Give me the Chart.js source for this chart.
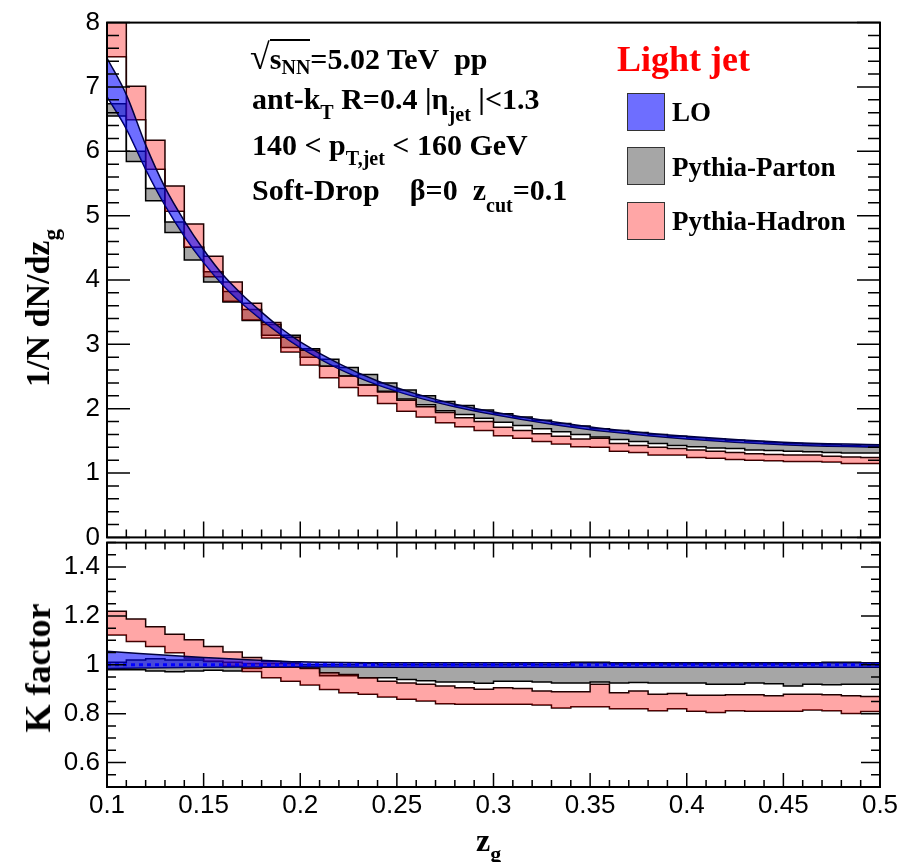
<!DOCTYPE html>
<html>
<head>
<meta charset="utf-8">
<script src="https://cdn.jsdelivr.net/npm/chart.js@4.4.1/dist/chart.umd.min.js"></script>
<style>
  body { margin: 0; background: #fff; }
  #wrap { position: relative; width: 905px; height: 862px; overflow: hidden; }
  .pane { position: absolute; left: 0; width: 905px; }
  .txt { position: absolute; font-family: "Liberation Serif", "Times New Roman", serif; font-weight: bold; color: #000; white-space: nowrap; line-height: 1; }
  .sub { font-size: 20px; position: relative; }
  .box { position: absolute; width: 36px; height: 36px; border: 1.5px solid #333; }
</style>
</head>
<body>
<div id="wrap">
  <div class="pane" style="top:0;height:560px"><canvas id="mainChart"></canvas></div>
  <div class="pane" style="top:520px;height:342px"><canvas id="ratioChart"></canvas></div>

  <!-- annotations -->
  <div class="txt" style="left:250px;top:39px;font-size:30px"><span style="font-weight:normal;font-size:36px">√</span><span style="border-top:2px solid #000;padding-top:1px">s<span class="sub" style="top:5px">NN</span></span>=5.02 TeV&nbsp;&nbsp;pp</div>
  <div class="txt" style="left:252px;top:84px;font-size:30px">ant-k<span class="sub" style="top:10px">T</span> R=0.4 |η<span class="sub" style="top:12px">jet</span> |&lt;1.3</div>
  <div class="txt" style="left:252px;top:130px;font-size:30px">140 &lt; p<span class="sub" style="top:10px">T,jet</span> &lt; 160 GeV</div>
  <div class="txt" style="left:252px;top:175px;font-size:30px">Soft-Drop&nbsp;&nbsp;&nbsp;&nbsp;β=0&nbsp;&nbsp;z<span class="sub" style="top:12px">cut</span>=0.1</div>

  <!-- legend -->
  <div class="txt" style="left:617px;top:41px;font-size:36px;color:#ff0000">Light jet</div>
  <div class="box" style="left:627px;top:93px;background:rgb(110,110,255)"></div>
  <div class="box" style="left:627px;top:147px;background:rgb(166,166,166)"></div>
  <div class="box" style="left:627px;top:202px;background:rgb(255,166,166)"></div>
  <div class="txt" style="left:672px;top:99px;font-size:27px">LO</div>
  <div class="txt" style="left:672px;top:154px;font-size:27px">Pythia-Parton</div>
  <div class="txt" style="left:672px;top:208px;font-size:27px">Pythia-Hadron</div>

  <!-- axis titles -->
  <div class="txt" style="left:38px;top:308px;font-size:34px;transform:translate(-50%,-50%) rotate(-90deg)">1/N dN/dz<span class="sub" style="top:10px;font-size:23px">g</span></div>
  <div class="txt" style="left:38px;top:668px;font-size:36px;transform:translate(-50%,-50%) rotate(-90deg)">K factor</div>
  <div class="txt" style="left:476px;top:824px;font-size:32px">z<span class="sub" style="top:10px;font-size:22px">g</span></div>
</div>

<script>
// bin edges in z_g
const zEdges = [0.10, 0.11, 0.12, 0.13, 0.14, 0.15, 0.16, 0.17, 0.18, 0.19,
  0.20, 0.21, 0.22, 0.23, 0.24, 0.25, 0.26, 0.27, 0.28, 0.29,
  0.30, 0.31, 0.32, 0.33, 0.34, 0.35, 0.36, 0.37, 0.38, 0.39,
  0.40, 0.41, 0.42, 0.43, 0.44, 0.45, 0.46, 0.47, 0.48, 0.49, 0.50];

const xTicks = [0.1, 0.15, 0.2, 0.25, 0.3, 0.35, 0.4, 0.45, 0.5];
const yTicksMain = [0, 1, 2, 3, 4, 5, 6, 7, 8];
const yTicksRatio = [0.6, 0.8, 1, 1.2, 1.4];

// 1/N dN/dz_g, Pythia-Parton band
const partonLo = [6.55, 5.84, 5.23, 4.74, 4.31, 3.97, 3.66, 3.37, 3.14, 2.95,
  2.80, 2.66, 2.51, 2.37, 2.27, 2.15, 2.06, 1.97, 1.91, 1.85,
  1.79, 1.74, 1.69, 1.64, 1.60, 1.56, 1.52, 1.49, 1.46, 1.43,
  1.41, 1.39, 1.38, 1.36, 1.35, 1.34, 1.33, 1.32, 1.31, 1.31];
const partonHi = [6.74, 6.00, 5.42, 4.90, 4.51, 4.13, 3.82, 3.54, 3.31, 3.14,
  2.93, 2.77, 2.64, 2.53, 2.40, 2.29, 2.20, 2.11, 2.05, 1.98,
  1.92, 1.87, 1.82, 1.77, 1.73, 1.69, 1.66, 1.63, 1.60, 1.57,
  1.55, 1.53, 1.51, 1.49, 1.47, 1.46, 1.45, 1.44, 1.43, 1.42];

// Pythia-Hadron band
const hadronLo = [7.47, 6.49, 5.72, 5.07, 4.51, 4.05, 3.67, 3.38, 3.10, 2.88,
  2.68, 2.48, 2.33, 2.20, 2.08, 1.96, 1.87, 1.78, 1.72, 1.66,
  1.58, 1.54, 1.49, 1.45, 1.41, 1.40, 1.34, 1.32, 1.28, 1.28,
  1.24, 1.23, 1.21, 1.20, 1.19, 1.18, 1.18, 1.17, 1.15, 1.15];
const hadronHi = [8.30, 7.01, 6.17, 5.46, 4.87, 4.37, 3.97, 3.64, 3.34, 3.11,
  2.91, 2.66, 2.51, 2.37, 2.26, 2.13, 2.03, 1.94, 1.86, 1.80,
  1.71, 1.66, 1.61, 1.57, 1.53, 1.54, 1.46, 1.43, 1.40, 1.38,
  1.36, 1.34, 1.32, 1.30, 1.29, 1.28, 1.28, 1.26, 1.25, 1.24];

// LO band (smooth)
const loZ = [0.10, 0.11, 0.12, 0.13, 0.14, 0.15, 0.16, 0.17, 0.18, 0.19, 0.20,
  0.22, 0.24, 0.26, 0.28, 0.30, 0.33, 0.36, 0.40, 0.45, 0.50];
const loHi = [7.45, 6.88, 6.10, 5.44, 4.92, 4.47, 4.08, 3.77, 3.50, 3.25, 3.04,
  2.70, 2.43, 2.23, 2.07, 1.95, 1.80, 1.68, 1.57, 1.48, 1.44];
const loLo = [6.85, 6.35, 5.72, 5.16, 4.68, 4.27, 3.92, 3.63, 3.38, 3.15, 2.95,
  2.62, 2.37, 2.18, 2.03, 1.91, 1.76, 1.64, 1.53, 1.44, 1.40];

// K factor panel
const kPartonLo = [0.980, 0.980, 0.975, 0.972, 0.975, 0.978, 0.975, 0.985, 0.990, 0.990,
  0.985, 0.955, 0.955, 0.947, 0.947, 0.940, 0.935, 0.930, 0.930, 0.925,
  0.933, 0.933, 0.930, 0.926, 0.926, 0.930, 0.926, 0.928, 0.926, 0.926,
  0.926, 0.920, 0.920, 0.926, 0.922, 0.913, 0.920, 0.918, 0.920, 0.920];
const kPartonHi = [1.010, 1.020, 1.025, 1.020, 1.020, 1.015, 1.010, 1.005, 1.005, 1.005,
  1.000, 1.000, 1.000, 1.007, 1.000, 1.000, 1.000, 1.000, 1.000, 1.000,
  1.000, 1.002, 1.000, 1.000, 1.010, 1.010, 1.003, 1.003, 1.003, 1.003,
  1.003, 1.003, 1.003, 1.003, 1.003, 1.003, 1.003, 1.010, 1.010, 1.003];
const kHadronLo = [1.122, 1.095, 1.075, 1.049, 1.028, 1.014, 0.994, 0.973, 0.947, 0.933,
  0.917, 0.899, 0.886, 0.879, 0.868, 0.859, 0.852, 0.841, 0.839, 0.839,
  0.839, 0.839, 0.836, 0.823, 0.828, 0.828, 0.820, 0.820, 0.812, 0.820,
  0.810, 0.805, 0.812, 0.810, 0.810, 0.810, 0.815, 0.812, 0.801, 0.809];
const kHadronHi = [1.219, 1.187, 1.156, 1.125, 1.102, 1.075, 1.052, 1.030, 1.014, 1.007,
  0.987, 0.967, 0.960, 0.947, 0.933, 0.926, 0.920, 0.913, 0.906, 0.900,
  0.906, 0.903, 0.893, 0.890, 0.890, 0.920, 0.886, 0.893, 0.879, 0.883,
  0.875, 0.875, 0.877, 0.877, 0.873, 0.880, 0.880, 0.877, 0.873, 0.870];
const kLoZ = [0.10, 0.15, 0.20, 0.25, 0.30, 0.35, 0.40, 0.45, 0.50];
const kLoHi = [1.055, 1.030, 1.012, 1.008, 1.008, 1.008, 1.008, 1.008, 1.008];
const kLoLo = [0.985, 0.990, 0.992, 0.990, 0.990, 0.990, 0.990, 0.990, 0.990];
const kRefZ = [0.10, 0.50];
const kRef = [1, 1];

const BLUE = "rgba(0,0,255,0.57)";
const GRAY = "rgba(0,0,0,0.35)";
const RED = "rgba(255,0,0,0.35)";

// histogram -> step points on the bin edges (last value repeated at 0.5)
function steps(vals) {
  return zEdges.map((z, i) => ({ x: z, y: vals[Math.min(i, vals.length - 1)] }));
}
function pts(xs, ys) {
  return xs.map((x, i) => ({ x: x, y: ys[i] }));
}

function band(hi, lo, fillColor, edge, order, stepped) {
  const base = { pointRadius: 0, borderWidth: 1.5, borderColor: edge, order: order };
  if (stepped) {
    return [
      { ...base, data: steps(hi), stepped: true, fill: "+1", backgroundColor: fillColor },
      { ...base, data: steps(lo), stepped: true, fill: false },
    ];
  }
  return [
    { ...base, data: hi, tension: 0.4, cubicInterpolationMode: "monotone", fill: "+1", backgroundColor: fillColor },
    { ...base, data: lo, tension: 0.4, cubicInterpolationMode: "monotone", fill: false },
  ];
}

// ROOT-like frame with inward ticks
const frameTicks = {
  id: "frameTicks",
  afterDatasetsDraw(chart, args, o) {
    const { ctx, chartArea: a } = chart;
    const xs = chart.scales.x, ys = chart.scales.y;
    const isMajor = (v, m) => Math.abs(v / m - Math.round(v / m)) < 1e-6;
    ctx.save();
    ctx.strokeStyle = "#000";
    ctx.lineWidth = 1.5;
    ctx.beginPath();
    let n = Math.round((xs.max - xs.min) / o.xMinor);
    for (let i = 0; i <= n; i++) {
      const v = xs.min + i * o.xMinor;
      const px = xs.getPixelForValue(v);
      const big = isMajor(v, o.xMajor);
      if (o.xBottom) {
        ctx.moveTo(px, a.bottom);
        ctx.lineTo(px, a.bottom - (big ? o.xBottom[0] : o.xBottom[1]));
      }
      if (o.xTop) {
        ctx.moveTo(px, a.top);
        ctx.lineTo(px, a.top + (big ? o.xTop[0] : o.xTop[1]));
      }
    }
    n = Math.round((ys.max - ys.min) / o.yMinor);
    for (let i = 0; i <= n; i++) {
      const v = ys.min + i * o.yMinor;
      const py = ys.getPixelForValue(v);
      const len = isMajor(v, o.yMajor) ? o.yLen[0] : o.yLen[1];
      ctx.moveTo(a.left, py);
      ctx.lineTo(a.left + len, py);
      ctx.moveTo(a.right, py);
      ctx.lineTo(a.right - len, py);
    }
    ctx.stroke();
    ctx.lineWidth = 2;
    ctx.strokeRect(a.left, a.top, a.right - a.left, a.bottom - a.top);
    ctx.restore();
  },
};

const tickFont = { family: "'Liberation Sans', Arial, sans-serif", size: 26 };
const plainLabel = (v) => String(v);

new Chart(document.getElementById("mainChart"), {
  type: "line",
  data: {
    datasets: [
      ...band(pts(loZ, loHi), pts(loZ, loLo), BLUE, "#000040", 1, false),
      ...band(hadronHi, hadronLo, RED, "#200000", 3, true),
      ...band(partonHi, partonLo, GRAY, "#000", 5, true),
    ],
  },
  options: {
    responsive: true,
    maintainAspectRatio: false,
    animation: false,
    layout: { padding: { left: 0, right: 25, top: 20, bottom: 20 } },
    plugins: { legend: { display: false }, tooltip: { enabled: false }, frameTicks: { xMinor: 0.01, xMajor: 0.05, xBottom: [16, 8], yMinor: 0.2, yMajor: 1, yLen: [23, 12] } },
    scales: {
      x: { type: "linear", min: 0.1, max: 0.5, display: false },
      y: {
        min: 0, max: 8,
        afterBuildTicks: (s) => { s.ticks = yTicksMain.map((v) => ({ value: v })); },
        afterFit: (s) => { s.width = 107; },
        grid: { display: false, drawTicks: false },
        border: { display: false },
        ticks: { font: tickFont, color: "#000", padding: 7, callback: plainLabel },
      },
    },
  },
  plugins: [frameTicks],
});

new Chart(document.getElementById("ratioChart"), {
  type: "line",
  data: {
    datasets: [
      { data: pts(kRefZ, kRef), borderColor: "#0000ff", borderWidth: 3, borderDash: [4, 4], pointRadius: 0, fill: false, order: 0 },
      ...band(pts(kLoZ, kLoHi), pts(kLoZ, kLoLo), BLUE, "#000040", 1, false).map((d) => ({ ...d, tension: 0 })),
      ...band(kHadronHi, kHadronLo, RED, "#200000", 3, true),
      ...band(kPartonHi, kPartonLo, GRAY, "#000", 5, true),
    ],
  },
  options: {
    responsive: true,
    maintainAspectRatio: false,
    animation: false,
    layout: { padding: { left: 0, right: 25, top: 20, bottom: 0 } },
    plugins: { legend: { display: false }, tooltip: { enabled: false }, frameTicks: { xMinor: 0.01, xMajor: 0.05, xBottom: [14, 7], xTop: [15, 7], yMinor: 0.05, yMajor: 0.2, yLen: [19, 9] } },
    scales: {
      x: {
        type: "linear", min: 0.1, max: 0.5,
        afterBuildTicks: (s) => { s.ticks = xTicks.map((v) => ({ value: v })); },
        afterFit: (s) => { s.height = 75; },
        grid: { display: false, drawTicks: false },
        border: { display: false },
        ticks: { font: tickFont, color: "#000", padding: 3, maxRotation: 0, autoSkip: false, callback: plainLabel },
      },
      y: {
        min: 0.5, max: 1.5,
        afterBuildTicks: (s) => { s.ticks = yTicksRatio.map((v) => ({ value: v })); },
        afterFit: (s) => { s.width = 107; },
        grid: { display: false, drawTicks: false },
        border: { display: false },
        ticks: { font: tickFont, color: "#000", padding: 7, callback: plainLabel },
      },
    },
  },
  plugins: [frameTicks],
});
</script>
</body>
</html>
